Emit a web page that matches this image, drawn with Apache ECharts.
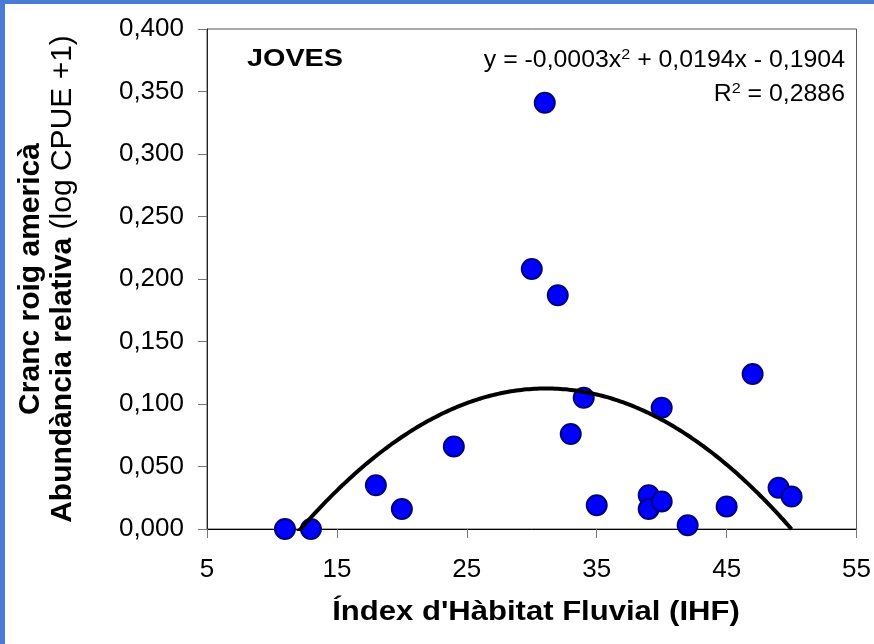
<!DOCTYPE html>
<html>
<head>
<meta charset="utf-8">
<script src="https://cdn.jsdelivr.net/npm/echarts@6.0.0/dist/echarts.min.js"></script>
<style>
  html, body { margin: 0; padding: 0; background: #fff; }
  #chart { width: 874px; height: 644px; }
</style>
</head>
<body>
<div id="chart"></div>
<script>
// Índex d'Hàbitat Fluvial (IHF) de cada punt
var ihf = [11, 13, 18, 20, 24, 30, 31, 32, 33, 34, 35, 39, 39, 40, 40, 42, 45, 47, 49, 50];
// abundància relativa (log CPUE +1)
var abund = [0.000, 0.000, 0.035, 0.016, 0.066, 0.208, 0.341, 0.187, 0.076, 0.105, 0.019, 0.027, 0.016, 0.022, 0.097, 0.003, 0.018, 0.124, 0.033, 0.026];

var xTicks = { min: 5, max: 55, step: 10 };
var yTicks = { min: 0, max: 0.4, step: 0.05 };

var panelLabel = 'JOVES';
var eqText = ['-0,0003', '0,0194', '0,1904'];
var r2Text = '0,2886';

var FONT = 'Liberation Sans, Arial, sans-serif';

// ajust polinòmic de grau 2 (mínims quadrats), com la línia de tendència d'Excel
function polyfit2(xs, ys) {
    var s = [0, 0, 0, 0, 0], t = [0, 0, 0];
    for (var i = 0; i < xs.length; i++) {
        var p = 1;
        for (var k = 0; k < 5; k++) { s[k] += p; if (k < 3) t[k] += p * ys[i]; p *= xs[i]; }
    }
    var m = [[s[0], s[1], s[2], t[0]], [s[1], s[2], s[3], t[1]], [s[2], s[3], s[4], t[2]]];
    for (var c = 0; c < 3; c++) {
        for (var r = c + 1; r < 3; r++) {
            var f = m[r][c] / m[c][c];
            for (var j = c; j < 4; j++) m[r][j] -= f * m[c][j];
        }
    }
    var b = [0, 0, 0];
    for (var r2 = 2; r2 >= 0; r2--) {
        var v = m[r2][3];
        for (var j2 = r2 + 1; j2 < 3; j2++) v -= m[r2][j2] * b[j2];
        b[r2] = v / m[r2][r2];
    }
    return b; // c0 + c1 x + c2 x^2
}

var coef = polyfit2(ihf, abund);
var trend = [];
var xLo = Math.min.apply(null, ihf), xHi = Math.max.apply(null, ihf);
for (var x = xLo; x <= xHi + 1e-9; x += 0.1) {
    trend.push([x, coef[0] + coef[1] * x + coef[2] * x * x]);
}

var points = ihf.map(function (v, i) { return [v, abund[i]]; });

var myChart = echarts.init(document.getElementById('chart'));
var option = {
    backgroundColor: '#fff',
    animation: false,
    grid: {
        left: 207, right: 14, top: 29, bottom: 115,
        show: true, borderColor: '#555', borderWidth: 1
    },
    xAxis: {
        type: 'value',
        min: xTicks.min, max: xTicks.max, interval: xTicks.step,
        axisLine: { lineStyle: { color: '#000', width: 1 } },
        axisTick: { show: true, inside: false, length: 9, lineStyle: { color: '#777' } },
        axisLabel: { fontSize: 26, color: '#000', fontFamily: FONT, margin: 28 },
        splitLine: { show: false }
    },
    yAxis: {
        type: 'value',
        min: yTicks.min, max: yTicks.max, interval: yTicks.step,
        axisLine: { show: true, lineStyle: { color: '#222', width: 1 } },
        axisTick: { show: true, inside: false, length: 9, lineStyle: { color: '#777' } },
        axisLabel: {
            fontSize: 26, color: '#000', fontFamily: FONT, margin: 23,
            formatter: function (v) { return v.toFixed(3).replace('.', ','); }
        },
        splitLine: { show: false }
    },
    series: [
        {
            name: 'Joves',
            type: 'scatter',
            data: points,
            symbol: 'circle',
            symbolSize: 20,
            itemStyle: { color: '#0000ff', borderColor: '#000080', borderWidth: 2, opacity: 1 },
            z: 2
        },
        {
            name: 'Polinòmica',
            type: 'line',
            data: trend,
            showSymbol: false,
            smooth: false,
            clip: true,
            lineStyle: { color: '#000', width: 4 },
            z: 3
        }
    ],
    graphic: [
        // marc blau
        { type: 'rect', left: 0, top: 0, shape: { width: 874, height: 4 }, style: { fill: '#4a7bd6' }, z: 10 },
        { type: 'rect', left: 0, top: 0, shape: { width: 5, height: 644 }, style: { fill: '#4a7bd6' }, z: 10 },
        {
            type: 'text', x: 295, y: 59, scaleX: 1.2,
            style: { text: panelLabel, font: 'bold 24px ' + FONT, fill: '#000', align: 'center', verticalAlign: 'middle' }
        },
        {
            type: 'text', x: 845, y: 61, scaleX: 1.08,
            style: {
                text: '{n|y = ' + eqText[0] + 'x}{s|2}{n| + ' + eqText[1] + 'x - ' + eqText[2] + '}',
                align: 'right', verticalAlign: 'middle', fill: '#000',
                rich: {
                    n: { fontSize: 23, fontFamily: FONT, lineHeight: 28, fill: '#000' },
                    s: { fontSize: 15, fontFamily: FONT, lineHeight: 12, verticalAlign: 'top', fill: '#000' }
                }
            }
        },
        {
            type: 'text', x: 845, y: 95, scaleX: 1.08,
            style: {
                text: '{n|R}{s|2}{n| = ' + r2Text + '}',
                align: 'right', verticalAlign: 'middle', fill: '#000',
                rich: {
                    n: { fontSize: 23, fontFamily: FONT, lineHeight: 28, fill: '#000' },
                    s: { fontSize: 15, fontFamily: FONT, lineHeight: 12, verticalAlign: 'top', fill: '#000' }
                }
            }
        },
        {
            type: 'text', x: 536, y: 613, scaleX: 1.15,
            style: { text: "Índex d'Hàbitat Fluvial (IHF)", font: 'bold 27px ' + FONT, fill: '#000', align: 'center', verticalAlign: 'middle' }
        },
        {
            type: 'text', x: 47, y: 279, rotation: Math.PI / 2,
            style: {
                text: '{b|Cranc roig americà}\n{b|Abundància relativa }{r|(log CPUE +1)}',
                align: 'center', verticalAlign: 'middle', fill: '#000',
                rich: {
                    b: { fontSize: 30, fontWeight: 'bold', fontFamily: FONT, lineHeight: 32, fill: '#000' },
                    r: { fontSize: 30, fontFamily: FONT, lineHeight: 32, fill: '#000' }
                }
            }
        }
    ]
};
myChart.setOption(option);
</script>
</body>
</html>
